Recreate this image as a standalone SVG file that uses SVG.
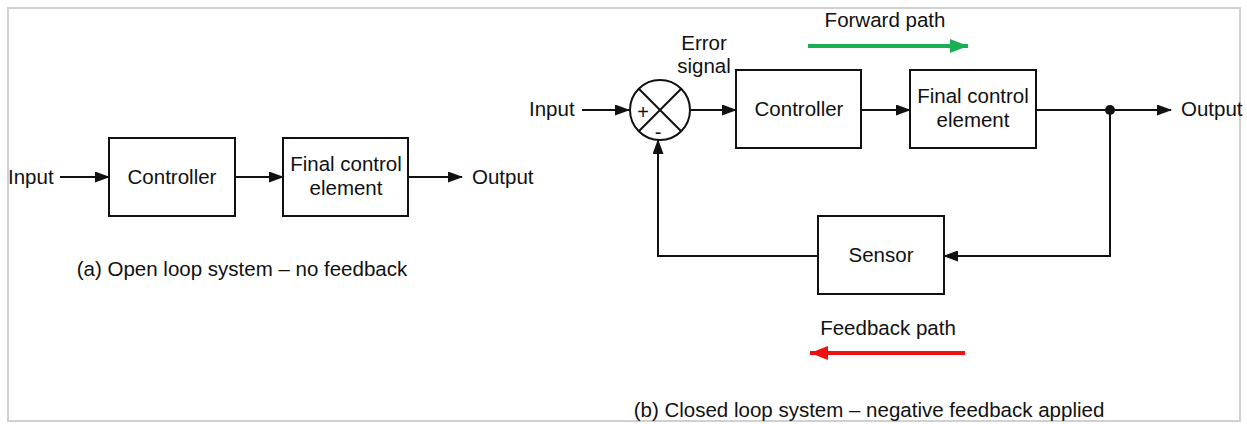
<svg xmlns="http://www.w3.org/2000/svg" width="1247" height="424" viewBox="0 0 1247 424">
<style>
text{font-family:"Liberation Sans",Arial,sans-serif;font-size:20.5px;fill:#111}
.box{fill:#fff;stroke:#111;stroke-width:2}
.ln{fill:none;stroke:#111;stroke-width:2}
.sign{font-size:20px}
</style>
<defs>
<marker id="ahB" markerWidth="15" markerHeight="11" refX="14" refY="5.5" orient="auto" markerUnits="userSpaceOnUse"><path d="M0,0 L15,5.5 L0,11 z" fill="#111"/></marker>
<marker id="ahG" markerWidth="18" markerHeight="14" refX="18" refY="7" orient="auto" markerUnits="userSpaceOnUse"><path d="M0,0 L18,7 L0,14 z" fill="#1aaf54"/></marker>
<marker id="ahR" markerWidth="18" markerHeight="14" refX="18" refY="7" orient="auto" markerUnits="userSpaceOnUse"><path d="M0,0 L18,7 L0,14 z" fill="#ee1111"/></marker>
</defs>
<rect x="0" y="0" width="1247" height="424" fill="#fff"/>
<rect x="8" y="8" width="1232" height="413" fill="none" stroke="#d0d0d0" stroke-width="2"/>

<g id="connectors">
<line class="ln" x1="60" y1="177" x2="109" y2="177" marker-end="url(#ahB)"/>
<line class="ln" x1="235" y1="177" x2="283" y2="177" marker-end="url(#ahB)"/>
<line class="ln" x1="408" y1="177" x2="462" y2="177" marker-end="url(#ahB)"/>
<line class="ln" x1="582" y1="110" x2="629" y2="110" marker-end="url(#ahB)"/>
<line class="ln" x1="691" y1="110" x2="736" y2="110" marker-end="url(#ahB)"/>
<line class="ln" x1="861" y1="110" x2="910" y2="110" marker-end="url(#ahB)"/>
<line class="ln" x1="1036" y1="110" x2="1171" y2="110" marker-end="url(#ahB)"/>
<polyline class="ln" points="1110,110 1110,256 944,256" marker-end="url(#ahB)"/>
<polyline class="ln" points="818,256 658,256 658,140" marker-end="url(#ahB)"/>
<circle cx="1110" cy="110" r="5" fill="#111"/>
<line x1="808" y1="46" x2="968" y2="46" stroke="#1aaf54" stroke-width="4" marker-end="url(#ahG)"/>
<line x1="965" y1="353" x2="810" y2="353" stroke="#ee1111" stroke-width="4" marker-end="url(#ahR)"/>
</g>

<g id="open-input"><text x="8" y="184">Input</text></g>
<g id="open-controller"><rect class="box" x="109" y="138" width="126" height="78"/><text x="172" y="184" text-anchor="middle">Controller</text></g>
<g id="open-final"><rect class="box" x="283" y="138" width="125" height="78"/><text x="346" y="171" text-anchor="middle">Final control</text><text x="346" y="195" text-anchor="middle">element</text></g>
<g id="open-output"><text x="472" y="184">Output</text></g>
<g id="caption-a"><text x="242" y="276" text-anchor="middle">(a) Open loop system – no feedback</text></g>

<g id="closed-input"><text x="529" y="116">Input</text></g>
<g id="summing"><circle class="box" cx="660" cy="110" r="30"/><line class="ln" x1="638.8" y1="88.8" x2="681.2" y2="131.2"/><line class="ln" x1="681.2" y1="88.8" x2="638.8" y2="131.2"/><text class="sign" x="643" y="119" text-anchor="middle">+</text><text class="sign" x="658" y="139" text-anchor="middle">-</text></g>
<g id="error-signal"><text x="704" y="50" text-anchor="middle">Error</text><text x="704" y="73" text-anchor="middle">signal</text></g>
<g id="closed-controller"><rect class="box" x="736" y="70" width="125" height="78"/><text x="799" y="116" text-anchor="middle">Controller</text></g>
<g id="closed-final"><rect class="box" x="910" y="70" width="126" height="78"/><text x="973" y="103" text-anchor="middle">Final control</text><text x="973" y="127" text-anchor="middle">element</text></g>
<g id="closed-output"><text x="1181" y="116">Output</text></g>
<g id="sensor"><rect class="box" x="818" y="216" width="126" height="78"/><text x="881" y="262" text-anchor="middle">Sensor</text></g>
<g id="forward-path"><text x="885" y="27" text-anchor="middle">Forward path</text></g>
<g id="feedback-path"><text x="888" y="335" text-anchor="middle">Feedback path</text></g>
<g id="caption-b"><text x="869" y="417" text-anchor="middle">(b) Closed loop system – negative feedback applied</text></g>
</svg>
